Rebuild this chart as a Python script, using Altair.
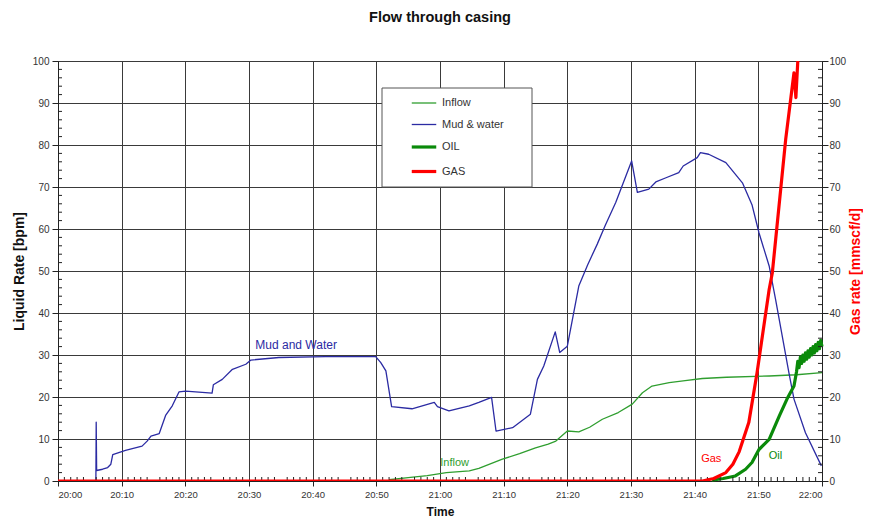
import altair as alt
import pandas as pd

# ---- data (minutes after 20:00) ----
series_order = ["Inflow", "Mud & water", "OIL", "GAS"]
series_colors = ["#2f9e2f", "#2b2ba3", "#0a8a0a", "#ff0000"]
series_widths = [1.3, 1.3, 3.2, 3.2]

tick_minutes = list(range(0, 121, 5))
minor_minutes = [m for m in range(1, 120) if m % 5 != 0]
liquid_ticks = list(range(0, 101, 10))
minor_liquid = [v for v in range(2, 100, 2) if v % 10 != 0]

inflow_t = [52.0, 55.0, 58.0, 61.0, 64.6, 66.1, 69.8, 72.5, 75.0, 77.0, 78.2, 80.0,
            81.8, 83.5, 85.5, 88.0, 90.2, 91.8, 93.3, 96.0, 98.5, 101.2, 105.0,
            111.7, 116.0, 120.0]
inflow_v = [0.3, 0.8, 1.3, 2.0, 2.4, 3.0, 5.2, 6.5, 7.9, 8.8, 9.5, 11.9,
            11.7, 12.8, 14.7, 16.3, 18.3, 21.0, 22.6, 23.4, 23.9, 24.4, 24.7,
            25.0, 25.3, 25.8]

mud_t = [5.95, 6.0, 6.07, 7.0, 7.8, 8.3, 8.6, 10.6, 13.2, 14.0, 14.6, 15.9, 16.9,
         17.95, 19.0, 20.05, 24.2, 24.4, 25.8, 27.4, 29.5, 30.3, 34.7, 42.0, 49.9,
         50.7, 51.5, 52.4, 55.6, 59.1, 59.6, 61.4, 64.6, 66.1, 68.1, 68.8, 71.4,
         74.2, 75.3, 76.3, 78.1, 78.8, 80.0, 81.8, 83.2, 84.7, 86.0, 87.6, 90.1,
         91.0, 92.8, 93.9, 95.5, 97.5, 98.2, 100.4, 100.9, 102.2, 104.9, 107.5,
         109.0, 110.1, 111.7, 112.7, 114.8, 115.6, 117.4, 119.9]
mud_v = [0.0, 14.0, 2.5, 2.8, 3.2, 4.0, 6.3, 7.3, 8.3, 9.5, 10.7, 11.3, 15.6,
         17.9, 21.2, 21.4, 20.9, 22.9, 24.2, 26.6, 27.8, 28.8, 29.4, 29.6, 29.6,
         28.2, 26.2, 17.7, 17.2, 18.7, 17.7, 16.7, 17.9, 18.7, 19.9, 11.9, 12.7,
         15.9, 24.2, 27.4, 35.5, 30.6, 32.1, 46.4, 51.5, 56.4, 61.0, 66.3, 76.2,
         68.7, 69.5, 71.2, 72.2, 73.4, 75.0, 77.0, 78.2, 77.8, 75.8, 71.0,
         65.8, 59.1, 51.2, 43.3, 25.8, 19.5, 11.5, 3.6]

oil_t = [102.7, 104.5, 106.4, 108.0, 109.0, 110.1, 111.7, 113.3, 114.5, 115.6, 116.0,
         116.2, 116.4, 116.6, 116.8, 117.0, 117.2, 117.4, 117.6, 117.8, 118.0, 118.2,
         118.4, 118.6, 118.8, 119.0, 119.2, 119.4, 119.6, 119.8, 120.0]
oil_v = [0.2, 0.6, 1.2, 2.8, 4.4, 7.5, 9.9, 15.5, 19.5, 22.6, 26.0,
         28.5, 27.0, 29.5, 28.0, 30.0, 28.5, 30.5, 29.0, 31.0, 29.5, 31.5,
         30.0, 32.0, 30.5, 32.5, 31.0, 33.0, 31.5, 33.5, 32.0]

gas_t = [0.0, 101.2, 103.0, 104.9, 106.0, 107.0, 108.5, 109.8, 111.7, 112.2, 114.3,
         115.6, 115.9, 116.2]
gas_v = [0.0, 0.0, 0.6, 2.0, 4.0, 7.0, 13.9, 25.8, 45.6, 49.6, 81.4,
         97.2, 91.3, 100.0]

# annotations: text, time, value
ann_text = ["Mud and Water", "Inflow", "Gas", "Oil"]
ann_t = [37.4, 62.3, 102.6, 112.7]
ann_v = [32.5, 4.4, 5.3, 6.0]
# annotation styles
ann_color = ["#2b2ba3", "#2f9e2f", "#ff0000", "#0a8a0a"]
ann_size = [12, 11, 11, 11]

# ---- tables ----
liquid = pd.concat([
    pd.DataFrame({"t": inflow_t, "v": inflow_v, "series": "Inflow"}),
    pd.DataFrame({"t": mud_t, "v": mud_v, "series": "Mud & water"}),
    pd.DataFrame({"t": oil_t, "v": oil_v, "series": "OIL"}),
], ignore_index=True)
gas = pd.DataFrame({"t": gas_t, "v": gas_v, "series": "GAS"})
minor_y_df = pd.DataFrame({"v": minor_liquid})
minor_x_df = pd.DataFrame({"t": minor_minutes})

FONT = "Liberation Sans"
W, H = 764, 420

x_enc = alt.X("t:Q", scale=alt.Scale(domain=[0, 120], nice=False, zero=False),
              axis=alt.Axis(values=tick_minutes, title="Time",
                            labelExpr="format(20 + floor(datum.value / 60), 'd') + ':' + format(datum.value % 60, '02d')",
                            grid=True, tickSize=5, labelPadding=3, titlePadding=8,
                            labelFontSize=9.5, titleFontSize=12, titleFontWeight="bold"))

left_axis = alt.Axis(values=liquid_ticks, title="Liquid Rate [bpm]", grid=True,
                     tickSize=6, labelPadding=3, titlePadding=6,
                     labelFontSize=10, titleFontSize=14, titleFontWeight="bold")
left_scale = alt.Scale(domain=[0, 100], nice=False)
y_left = alt.Y("v:Q", scale=left_scale, axis=left_axis)

legend = alt.Legend(title=None, orient="none", legendX=352, legendY=29,
                    symbolType="stroke", symbolSize=600, symbolOffset=0,
                    labelFontSize=11, labelColor="#333", padding=0, rowPadding=3.5,
                    labelOffset=4)
color_enc = alt.Color("series:N", scale=alt.Scale(domain=series_order, range=series_colors),
                      legend=legend)
width_enc = alt.StrokeWidth("series:N",
                            scale=alt.Scale(type="ordinal", domain=series_order, range=series_widths),
                            legend=legend)

# white framed box behind the legend entries
legend_box = alt.Chart(alt.Data(values=[{}])).mark_rect(
    fill="white", stroke="#555", strokeWidth=1
).encode(x=alt.value(324), x2=alt.value(474), y=alt.value(27), y2=alt.value(126))

# minor ticks (inside the frame)
minor_left = alt.Chart(minor_y_df).mark_rule(color="#222", strokeWidth=1).encode(
    y=y_left, x=alt.value(0), x2=alt.value(4))
minor_right = alt.Chart(minor_y_df).mark_rule(color="#222", strokeWidth=1).encode(
    y=y_left, x=alt.value(W - 4), x2=alt.value(W))
minor_bottom = alt.Chart(minor_x_df).mark_rule(color="#222", strokeWidth=1).encode(
    x=alt.X("t:Q"), y=alt.value(H - 4), y2=alt.value(H))

liquid_lines = alt.Chart(liquid).mark_line(strokeJoin="round").encode(
    x=x_enc, y=y_left, color=color_enc, strokeWidth=width_enc,
    detail="series:N")

ann_layers = []
for txt, tt, vv, cc, fs in zip(ann_text, ann_t, ann_v, ann_color, ann_size):
    ann_layers.append(
        alt.Chart(pd.DataFrame({"t": [tt], "v": [vv], "label": [txt]})).mark_text(
            color=cc, fontSize=fs, font=FONT, align="center", baseline="middle"
        ).encode(x=alt.X("t:Q"), y=y_left, text="label:N")
    )

left = alt.layer(liquid_lines, legend_box, minor_left, minor_right, minor_bottom, *ann_layers)

gas_line = alt.Chart(gas).mark_line(clip=True, strokeJoin="round").encode(
    x=alt.X("t:Q"),
    y=alt.Y("v:Q", scale=alt.Scale(domain=[0, 100], nice=False),
            axis=alt.Axis(values=liquid_ticks, orient="right", title="Gas rate [mmscf/d]",
                          grid=False, tickSize=6, labelPadding=1, titlePadding=3,
                          labelFontSize=10, titleFontSize=14, titleFontWeight="bold",
                          titleColor="#ff0000", titleAngle=270, titleBaseline="top")),
    color=color_enc, strokeWidth=width_enc)

chart = alt.layer(left, gas_line).resolve_scale(y="independent").properties(
    width=W, height=H,
    title=alt.TitleParams("Flow through casing", fontSize=14.5, fontWeight="bold",
                          font=FONT, anchor="middle", offset=31, color="#111"),
    padding={"left": 4, "top": 1, "right": 0, "bottom": 0},
).configure_view(stroke="#222", strokeWidth=1).configure_axis(
    labelFont=FONT, titleFont=FONT, labelColor="#333", titleColor="#111",
    gridColor="#3a3a3a", gridWidth=1, gridOpacity=1,
    domainColor="#222", tickColor="#222",
).configure_legend(labelFont=FONT)

chart.save("out.html", embed_options={"renderer": "svg", "actions": False})
